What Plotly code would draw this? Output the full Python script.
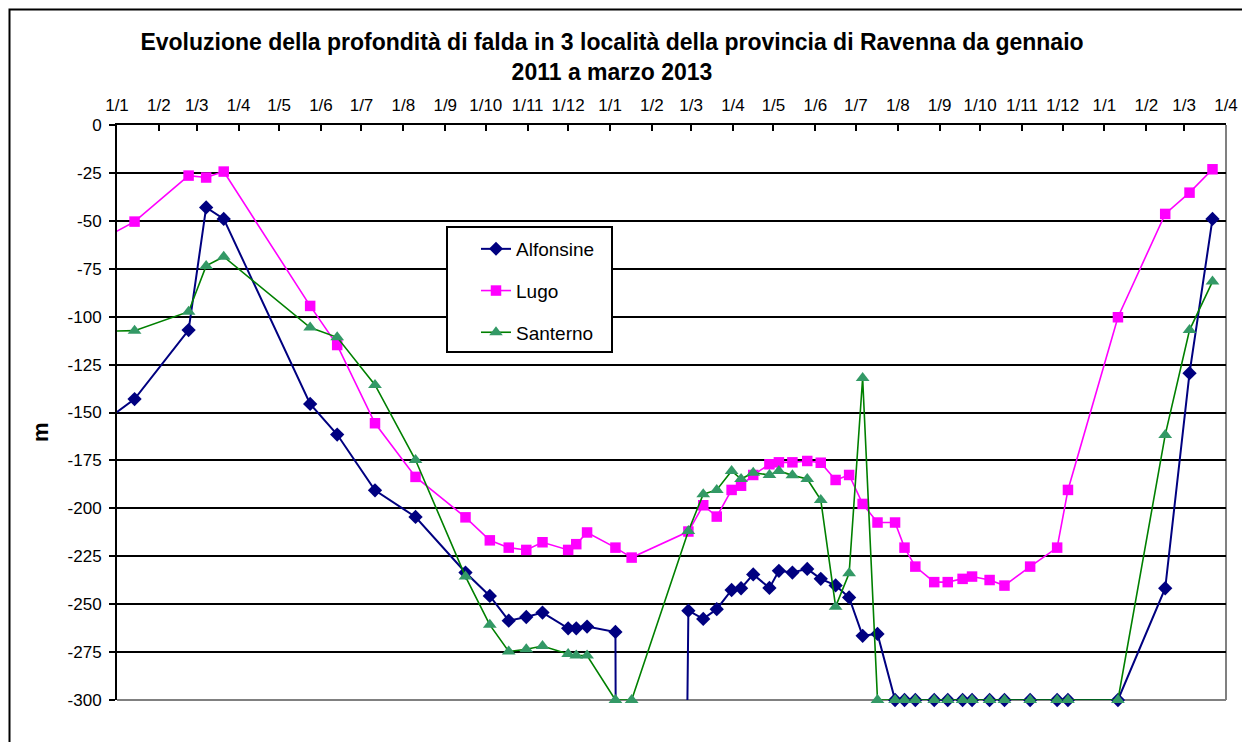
import plotly.graph_objects as go

dates = [
    "2010-12-20",
    "2011-01-14", "2011-02-23", "2011-03-08", "2011-03-21", "2011-05-24", "2011-06-13",
    "2011-07-11", "2011-08-10", "2011-09-16", "2011-10-04", "2011-10-18", "2011-10-31",
    "2011-11-12", "2011-12-01", "2011-12-07", "2011-12-15", "2012-01-05", "2012-01-17",
    "2012-02-28", "2012-03-10", "2012-03-20", "2012-03-31", "2012-04-07", "2012-04-16",
    "2012-04-28", "2012-05-05", "2012-05-15", "2012-05-26", "2012-06-05", "2012-06-16",
    "2012-06-26", "2012-07-06", "2012-07-17", "2012-07-30", "2012-08-06", "2012-08-14",
    "2012-08-28", "2012-09-07", "2012-09-18", "2012-09-25", "2012-10-08", "2012-10-19",
    "2012-11-07", "2012-11-27", "2012-12-05", "2013-01-11", "2013-02-15", "2013-03-05",
    "2013-03-22",
]

alfonsine = [
    -156,
    -143, -107, -43, -49, -145.5, -161.5, -190.6, -204.5, -233.5, -245.7, -258.6, -256.7,
    -254.4, -262.6, -262.6, -261.7, -264.5, -3000,
    -253.4, -257.7, -252.6, -242.6, -241.7, -234.5, -241.5, -232.6, -233.5, -231.6,
    -236.8, -240.2, -246.5, -266.5, -265.5,
    -300, -300, -300, -300, -300, -300, -300, -300, -300, -300, -300, -300, -300,
    -241.7, -129.5, -49,
]

lugo = [
    -60,
    -50.4, -26.4, -27.4, -24.3, -94.4, -114.8, -155.6, -183.6, -204.7, -216.7, -220.5, -221.7,
    -217.7, -221.7, -218.7, -212.6, -220.5, -225.7,
    -212.1, -198.4, -204.3, -190.4, -188.2, -182.6, -177, -176, -176, -175.3,
    -176.2, -185.2, -182.6, -197.7, -207.4,
    -207.4, -220.5, -230.4, -238.5, -238.5, -236.8, -235.6, -237.4, -240.3, -230.4, -220.5,
    -190.4, -100.3,
    -46.4, -35.3, -23.1,
]

santerno = [
    -107.6,
    -107.3, -97.4, -73.5, -68.7, -105.7, -110.8, -135.6, -174.8, -235.6, -260.8, -274.7, -273.5,
    -271.8, -276, -276.8, -276.8, -300, -300,
    -211.8, -192.6, -190.4, -180.5, -184.7, -181.4, -182.6, -180.5, -182.8, -184.7,
    -195.6, -251.3, -233.9, -132, -300,
    -300, -300, -300, -300, -300, -300, -300, -300, -300, -300, -300, -300, -300,
    -161.7, -107, -81.7,
]

series_names = ["Alfonsine", "Lugo", "Santerno"]
y_ticks = [0, -25, -50, -75, -100, -125, -150, -175, -200, -225, -250, -275, -300]
y_ticktext = [str(v) for v in y_ticks]

FONT = "Arial, 'Liberation Sans', sans-serif"

# the first record (before the axis start) only carries the line in from the left edge
def sizes(n, s):
    return [0] + [s] * (n - 1)

fig = go.Figure()
fig.add_trace(go.Scatter(
    x=dates, y=alfonsine, name=series_names[0], mode="lines+markers",
    line=dict(color="#000080", width=2),
    marker=dict(symbol="diamond", size=sizes(len(dates), 11), color="#000080",
                opacity=1, line=dict(width=0)),
    legendgroup="a", cliponaxis=False,
))
fig.add_trace(go.Scatter(
    x=dates, y=lugo, name=series_names[1], mode="lines+markers",
    line=dict(color="#FF00FF", width=1.6),
    marker=dict(symbol="square", size=10.5, color="#FF00FF", opacity=1, line=dict(width=0)),
    legendgroup="b",
))
fig.add_trace(go.Scatter(
    x=dates, y=santerno, name=series_names[2], mode="lines+markers",
    line=dict(color="#008000", width=1.6),
    marker=dict(symbol="triangle-up", size=sizes(len(dates), 12), color="#339966",
                opacity=1, line=dict(width=0)),
    legendgroup="c", cliponaxis=False,
))

# page body margin of 8px shifts the figure; compensate
OFF = 8
W, H = 1250 - OFF, 742 - OFF
L, R, T, B = 117, 1226, 125, 700          # plot area in page pixels
pw, ph = R - L, B - T

def px_x(p):
    return (p - L) / pw

def px_y(p):
    return (B - p) / ph

shapes = [
    dict(type="line", xref="paper", yref="paper", x0=1, x1=1, y0=0, y1=1,
         line=dict(color="#808080", width=2), layer="between"),
    dict(type="line", xref="paper", yref="paper", x0=0, x1=1, y0=0, y1=0,
         line=dict(color="#808080", width=2), layer="between"),
    dict(type="rect", xref="paper", yref="paper",
         x0=px_x(447), x1=px_x(612), y0=px_y(352), y1=px_y(227),
         line=dict(color="black", width=2), fillcolor="white", layer="above"),
    dict(type="rect", xref="paper", yref="paper",
         x0=px_x(OFF + 1.5), x1=px_x(1300), y0=px_y(800), y1=px_y(OFF + 1.5),
         line=dict(color="black", width=2), fillcolor="rgba(0,0,0,0)", layer="above"),
]

fig.update_layout(
    width=W, height=H,
    margin=dict(l=L - OFF, r=(W + OFF) - R, t=T - OFF, b=(H + OFF) - B),
    paper_bgcolor="white", plot_bgcolor="white",
    font=dict(family=FONT, color="black"),
    title=dict(
        text="Evoluzione della profondità di falda in 3 località della provincia di Ravenna da gennaio<br>2011 a marzo 2013",
        x=(612 - OFF) / W, xanchor="center", xref="container",
        y=1 - 42 / H, yanchor="top", yref="container",
        font=dict(family=FONT, size=23, color="black", weight="bold"),
    ),
    showlegend=True,
    legend=dict(
        x=px_x(476), y=px_y(230), xanchor="left", yanchor="top",
        bgcolor="rgba(0,0,0,0)", borderwidth=0,
        font=dict(family=FONT, size=19, color="black"),
        tracegroupgap=14, traceorder="grouped",
    ),
    xaxis=dict(
        type="date", side="top",
        range=["2011-01-01", "2013-04-01"],
        tick0="2011-01-01", dtick="M1", tickformat="%-d/%-m",
        ticks="inside", ticklen=6, tickwidth=2, tickcolor="black",
        ticklabelstandoff=5,
        showline=True, linecolor="black", linewidth=2,
        showgrid=False, zeroline=False,
        tickfont=dict(family=FONT, size=17, color="black"),
    ),
    yaxis=dict(
        range=[-300, 0], tickvals=y_ticks, ticktext=y_ticktext,
        ticks="outside", ticklen=6, tickwidth=2, tickcolor="black",
        ticklabelstandoff=4,
        showline=True, linecolor="black", linewidth=2,
        showgrid=True, gridcolor="black", gridwidth=2,
        zeroline=False,
        tickfont=dict(family=FONT, size=17, color="black"),
    ),
    shapes=shapes,
    annotations=[
        dict(text="<b>m</b>", xref="paper", yref="paper", x=px_x(40), y=px_y(432),
             xanchor="center", yanchor="middle", showarrow=False, textangle=-90,
             font=dict(family=FONT, size=22, color="black")),
    ],
)

fig.write_html("out.html")
